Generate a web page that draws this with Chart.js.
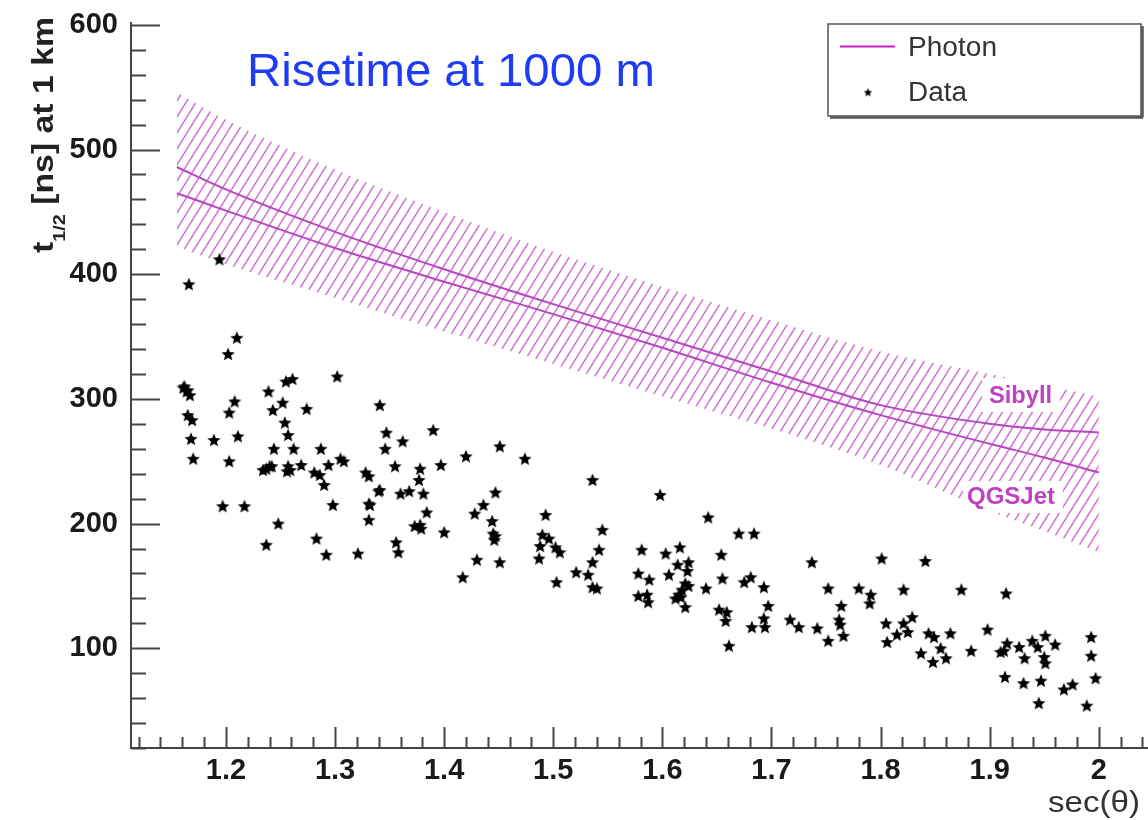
<!DOCTYPE html>
<html lang="en">
<head>
    <meta charset="UTF-8">
    <title>Risetime at 1000 m</title>
    <script src="https://cdn.jsdelivr.net/npm/chart.js@4.4.1/dist/chart.umd.min.js"></script>
    <style>
        html, body { margin: 0; padding: 0; background: #fff; overflow: hidden; }
    </style>
</head>
<body>
    <canvas id="chart_area" width="1155" height="820"></canvas>
    <script>
        // measured stars: sec(theta) and t1/2 at 1 km [ns]
        var secData = [1.194, 1.166, 1.210, 1.202, 1.162, 1.161, 1.165, 1.164, 1.167, 1.255,
            1.261, 1.302, 1.239, 1.208, 1.252, 1.243, 1.274, 1.203, 1.341, 1.165,
            1.169, 1.254, 1.347, 1.257, 1.390, 1.362, 1.211, 1.168, 1.189, 1.244,
            1.262, 1.287, 1.346, 1.170, 1.203, 1.305, 1.308, 1.420, 1.234, 1.237,
            1.240, 1.242, 1.257, 1.256, 1.259, 1.269, 1.294, 1.281, 1.286, 1.290,
            1.355, 1.378, 1.397, 1.328, 1.331, 1.377, 1.341, 1.340, 1.360, 1.368,
            1.381, 1.384, 1.428, 1.197, 1.217, 1.298, 1.332, 1.331, 1.331, 1.248,
            1.373, 1.378, 1.379, 1.400, 1.237, 1.283, 1.292, 1.321, 1.356, 1.358,
            1.430, 1.451, 1.474, 1.536, 1.598, 1.447, 1.436, 1.642, 1.493, 1.444,
            1.445, 1.447, 1.446, 1.545, 1.670, 1.684, 1.490, 1.496, 1.488, 1.502,
            1.506, 1.542, 1.616, 1.581, 1.603, 1.654, 1.737, 1.451, 1.487, 1.536,
            1.614, 1.624, 1.623, 1.417, 1.521, 1.532, 1.536, 1.540, 1.503, 1.578,
            1.588, 1.606, 1.655, 1.675, 1.681, 1.621, 1.624, 1.618, 1.615, 1.612,
            1.617, 1.640, 1.693, 1.578, 1.586, 1.587, 1.621, 1.697, 1.652, 1.659,
            1.658, 1.693, 1.682, 1.694, 1.717, 1.725, 1.742, 1.661, 1.801, 1.841,
            1.752, 1.780, 1.791, 1.790, 1.821, 1.874, 1.915, 1.764, 1.762, 1.763,
            1.766, 1.752, 1.805, 1.821, 1.829, 1.825, 1.815, 1.806, 1.844, 1.849,
            1.864, 1.837, 1.855, 1.860, 1.848, 1.883, 1.898, 1.910, 1.916, 1.913,
            1.927, 1.932, 1.939, 1.951, 1.944, 1.960, 1.950, 1.951, 1.993, 1.993,
            1.997, 1.914, 1.931, 1.947, 1.968, 1.976, 1.945, 1.989];
        var riseData = [412, 392, 349, 336, 310, 309, 307, 306, 303, 314,
            316, 318, 306, 298, 297, 291, 292, 289, 295, 287,
            283, 281, 273, 271, 275, 266, 270, 268, 267, 260,
            260, 260, 260, 252, 250, 252, 250, 254, 243, 244,
            246, 246, 246, 242, 243, 247, 247, 241, 239, 231,
            246, 244, 247, 241, 238, 235, 227, 226, 224, 226,
            224, 209, 208, 214, 214, 215, 215, 216, 203, 200,
            198, 199, 196, 193, 183, 188, 175, 176, 185, 177,
            171, 262, 252, 235, 223, 225, 215, 205, 207, 202,
            192, 190, 187, 195, 192, 192, 191, 188, 182, 181,
            177, 179, 181, 179, 176, 175, 169, 169, 172, 169,
            167, 169, 162, 157, 161, 159, 149, 148, 153, 160,
            155, 159, 156, 153, 157, 152, 150, 147, 143, 140,
            141, 148, 149, 142, 143, 137, 133, 134, 131, 129,
            122, 124, 117, 117, 123, 117, 116, 102, 172, 170,
            148, 148, 143, 136, 147, 147, 144, 134, 123, 119,
            110, 106, 120, 120, 125, 113, 111, 105, 112, 109,
            112, 96, 100, 92, 89, 98, 115, 97, 104, 98,
            101, 92, 106, 110, 101, 103, 93, 88, 109, 94,
            76, 77, 72, 74, 67, 71, 56, 54];

        // photon expectation
        var secModel = [1.155, 1.2, 1.3, 1.4, 1.5, 1.6, 1.7, 1.8, 1.9, 1.95, 2.0];
        var sibyll = [486, 468, 434, 404, 376, 349, 322, 295, 280, 275.5, 273];
        var qgsjet = [465, 451, 421, 394, 368, 341, 313, 287, 264, 253, 241];
        var bandHigh = [546, 524, 484, 450, 418, 390, 363, 338, 320, 311, 302];
        var bandLow = [422, 408, 381, 354, 328, 302, 276, 247, 210, 194, 177];

        var xTickVals = [1.2, 1.3, 1.4, 1.5, 1.6, 1.7, 1.8, 1.9, 2];
        var yTickVals = [100, 200, 300, 400, 500, 600];

        var magenta = '#b845c2';
        var axis_col = '#444';
        var fam = '"Liberation Sans", Arial, sans-serif';

        function pts(xs, ys) {
            var out = [];
            for (var i = 0; i < xs.length; i++) out.push({x: xs[i], y: ys[i]});
            return out;
        }

        function make_star(r) {
            var s = Math.ceil(r * 2 + 2);
            var c = document.createElement('canvas');
            c.width = s; c.height = s;
            var g = c.getContext('2d');
            g.fillStyle = '#000';
            g.beginPath();
            for (var i = 0; i < 10; i++) {
                var rr = i % 2 ? r * 0.45 : r;
                var a = -Math.PI / 2 + i * Math.PI / 5;
                g.lineTo(s / 2 + rr * Math.cos(a), s / 2 + 0.6 + rr * Math.sin(a));
            }
            g.closePath();
            g.fill();
            return c;
        }

        function make_hatch() {
            var w = 10, h = 16;
            var c = document.createElement('canvas');
            c.width = w; c.height = h;
            var g = c.getContext('2d');
            g.strokeStyle = 'rgba(200, 95, 205, 0.85)';
            g.lineWidth = 1.5;
            g.beginPath();
            for (var k = -1; k <= 1; k++) {
                g.moveTo(k * w - 2, h + 2 * h / w);
                g.lineTo(k * w + w + 2, -2 * h / w);
            }
            g.stroke();
            return g.createPattern(c, 'repeat');
        }

        var star_img = make_star(7);
        var legend_star = make_star(4.5);

        function fit_text(ctx, text, x, y, w, font, color) {
            ctx.save();
            ctx.font = font;
            ctx.fillStyle = color;
            ctx.textBaseline = 'alphabetic';
            var m = ctx.measureText(text).width;
            ctx.translate(x, y);
            ctx.scale(w / m, 1);
            ctx.fillText(text, 0, 0);
            ctx.restore();
        }

        var extras = {
            id: 'extras',
            afterDatasetsDraw: function(chart) {
                var ctx = chart.ctx;
                // white boxes behind band labels
                ctx.save();
                ctx.fillStyle = '#fff';
                ctx.fillRect(982, 378, 78, 34);
                ctx.fillRect(963, 481, 100, 32);
                ctx.restore();
                fit_text(ctx, 'Sibyll', 989, 403, 63, 'bold 24px ' + fam, '#c040c4');
                fit_text(ctx, 'QGSJet', 967, 504, 88, 'bold 24px ' + fam, '#c040c4');
            },
            afterDraw: function(chart) {
                var ctx = chart.ctx, a = chart.chartArea;
                var xs = chart.scales.x, ys = chart.scales.y;
                var i, v, p;

                // inner ticks, ROOT style
                ctx.save();
                ctx.strokeStyle = axis_col;
                ctx.lineWidth = 2;
                ctx.beginPath();
                for (i = 1; i <= 30; i++) {
                    v = i * 20;
                    p = Math.round(ys.getPixelForValue(v)) + 0.5;
                    ctx.moveTo(a.left, p);
                    ctx.lineTo(a.left + (v % 100 === 0 ? 29 : 15), p);
                }
                for (i = 56; i <= 102; i++) {
                    p = Math.round(xs.getPixelForValue(i / 50)) + 0.5;
                    ctx.moveTo(p, a.bottom);
                    ctx.lineTo(p, a.bottom - (i % 5 === 0 ? 21 : 11));
                }
                ctx.stroke();
                ctx.restore();

                // title
                fit_text(ctx, 'Risetime at 1000 m', 247, 86, 408, '46px ' + fam, '#1f3cf5');

                // y title with subscript
                ctx.save();
                ctx.fillStyle = '#222';
                ctx.translate(53, 253);
                ctx.rotate(-Math.PI / 2);
                var big = 'bold 29px ' + fam, small = 'bold 17px ' + fam;
                ctx.font = big;
                var w1 = ctx.measureText('t').width;
                var w3 = ctx.measureText(' [ns] at 1 km').width;
                ctx.font = small;
                var w2 = ctx.measureText('1/2').width;
                ctx.scale(236 / (w1 + w2 + w3), 1);
                ctx.font = big;
                ctx.fillText('t', 0, 0);
                ctx.font = small;
                ctx.fillText('1/2', w1, 12);
                ctx.font = big;
                ctx.fillText(' [ns] at 1 km', w1 + w2, 0);
                ctx.restore();

                // x title
                fit_text(ctx, 'sec(\u03b8)', 1048, 812, 92, '29px ' + fam, '#333');

                // legend box
                ctx.save();
                ctx.fillStyle = '#fff';
                ctx.fillRect(828, 24, 313, 92);
                ctx.strokeStyle = '#555';
                ctx.lineWidth = 1.5;
                ctx.strokeRect(828, 24, 313, 92);
                ctx.lineWidth = 2.5;
                ctx.beginPath();
                ctx.moveTo(830, 117.5); ctx.lineTo(1143, 117.5);
                ctx.moveTo(1142.5, 26); ctx.lineTo(1142.5, 117.5);
                ctx.stroke();
                ctx.strokeStyle = '#c81ec8';
                ctx.lineWidth = 2;
                ctx.beginPath();
                ctx.moveTo(840, 46.5); ctx.lineTo(895, 46.5);
                ctx.stroke();
                ctx.drawImage(legend_star, 868 - legend_star.width / 2, 92 - legend_star.height / 2);
                ctx.restore();
                fit_text(ctx, 'Photon', 908, 56, 89, '27px ' + fam, '#333');
                fit_text(ctx, 'Data', 908, 101, 59, '27px ' + fam, '#333');
            }
        };

        var hatch = make_hatch();

        var config = {
            type: 'line',
            data: {
                datasets: [{
                    label: 'Data',
                    data: pts(secData, riseData),
                    showLine: false,
                    pointStyle: star_img,
                    pointRadius: 6,
                    borderWidth: 0
                }, {
                    label: 'Sibyll',
                    data: pts(secModel, sibyll),
                    borderColor: magenta,
                    borderWidth: 2,
                    pointRadius: 0,
                    cubicInterpolationMode: 'monotone',
                    fill: false
                }, {
                    label: 'QGSJet',
                    data: pts(secModel, qgsjet),
                    borderColor: magenta,
                    borderWidth: 2,
                    pointRadius: 0,
                    cubicInterpolationMode: 'monotone',
                    fill: false
                }, {
                    label: 'band high',
                    data: pts(secModel, bandHigh),
                    borderWidth: 0,
                    pointRadius: 0,
                    cubicInterpolationMode: 'monotone',
                    backgroundColor: hatch,
                    fill: '+1'
                }, {
                    label: 'band low',
                    data: pts(secModel, bandLow),
                    borderWidth: 0,
                    pointRadius: 0,
                    cubicInterpolationMode: 'monotone',
                    fill: false
                }]
            },
            options: {
                responsive: false,
                animation: false,
                events: [],
                layout: { padding: { top: 23, right: 0, left: 0, bottom: 0 } },
                plugins: {
                    legend: { display: false },
                    tooltip: { enabled: false }
                },
                scales: {
                    x: {
                        type: 'linear',
                        min: 1.113,
                        max: 2.046,
                        grid: { display: false, drawTicks: false },
                        border: { display: true, color: axis_col, width: 2 },
                        afterBuildTicks: function(s) { s.ticks = xTickVals.map(function(v) { return {value: v}; }); },
                        afterFit: function(s) { s.height = 72; s.paddingLeft = 0; s.paddingRight = 0; },
                        ticks: {
                            autoSkip: false,
                            maxRotation: 0,
                            padding: 6,
                            color: '#1a1a1a',
                            font: { family: fam, size: 29, weight: 'bold' },
                            callback: function(v) { return String(v); }
                        }
                    },
                    y: {
                        min: 20,
                        max: 601.5,
                        grid: { display: false, drawTicks: false },
                        border: { display: true, color: axis_col, width: 2 },
                        afterBuildTicks: function(s) { s.ticks = yTickVals.map(function(v) { return {value: v}; }); },
                        afterFit: function(s) { s.width = 131; s.paddingTop = 0; s.paddingBottom = 0; },
                        ticks: {
                            padding: 13,
                            color: '#1a1a1a',
                            font: { family: fam, size: 29, weight: 'bold' }
                        }
                    }
                }
            },
            plugins: [extras]
        };

        var ctx = document.getElementById('chart_area').getContext('2d');
        window.riseChart = new Chart(ctx, config);
    </script>
</body>
</html>
